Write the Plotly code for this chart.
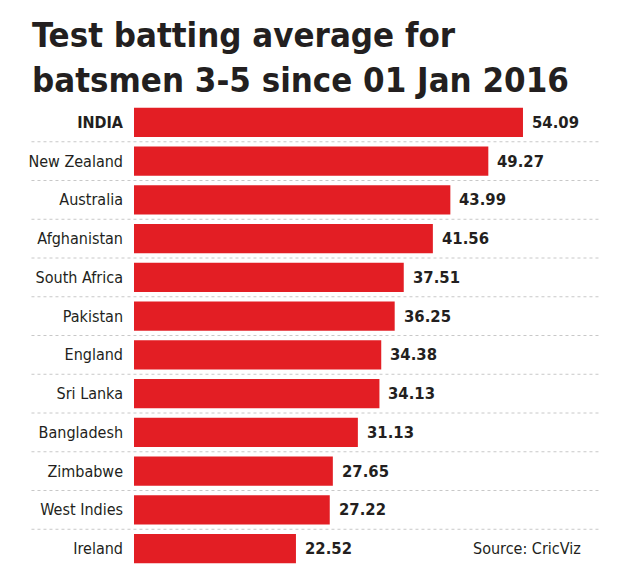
import plotly.graph_objects as go

countries = ["INDIA", "New Zealand", "Australia", "Afghanistan", "South Africa", "Pakistan",
             "England", "Sri Lanka", "Bangladesh", "Zimbabwe", "West Indies", "Ireland"]
averages = [54.09, 49.27, 43.99, 41.56, 37.51, 36.25, 34.38, 34.13, 31.13, 27.65, 27.22, 22.52]
tick_labels = ["<b>INDIA</b>"] + countries[1:]
title_lines = ["Test batting average for", "batsmen 3-5 since 01 Jan 2016"]
source_text = "Source: CricViz"

RED = "#e31e24"
INK = "#231f20"
NARROW = "DejaVu Sans Condensed, Roboto, sans-serif"

fig = go.Figure()
fig.add_trace(go.Bar(
    x=averages, y=countries, orientation="h",
    marker=dict(color=RED, line=dict(width=0)),
    width=0.75, hoverinfo="skip",
))

annotations = []
for c, v in zip(countries, averages):
    annotations.append(dict(
        x=v, y=c, xref="x", yref="y", text=f"<b>{v:.2f}</b>", showarrow=False,
        xanchor="left", yanchor="middle", xshift=7,
        font=dict(family=NARROW, size=16.5, color=INK),
    ))

annotations.append(dict(
    xref="paper", yref="paper", x=-0.223, y=1.0,
    text="<br>".join(f"<b>{t}</b>" for t in title_lines),
    showarrow=False, xanchor="left", yanchor="bottom", align="left",
    yshift=1,
    font=dict(family=NARROW, size=34.5, color=INK),
))
annotations.append(dict(
    xref="paper", yref="y", x=1.0, y=countries[-1], text=source_text, showarrow=False,
    xanchor="right", yanchor="middle", xshift=-17,
    font=dict(family=NARROW, size=16, color=INK),
))

shapes = []
for k in range(len(countries) - 1):
    shapes.append(dict(
        type="line", xref="paper", yref="y", x0=-0.22, x1=1.0,
        y0=k + 0.5, y1=k + 0.5,
        line=dict(color="#c8c8c8", width=1, dash="dot"), layer="below",
    ))

fig.update_layout(
    width=626, height=585,
    margin=dict(l=134, r=26, t=103, b=17),
    paper_bgcolor="white", plot_bgcolor="white",
    showlegend=False,
    bargap=0.25,
    xaxis=dict(range=[0, 64.8], visible=False, fixedrange=True),
    yaxis=dict(
        type="category", categoryorder="array", categoryarray=countries,
        autorange=False, range=[len(countries) - 0.5, -0.5],
        tickmode="array", tickvals=countries, ticktext=tick_labels,
        ticks="", showgrid=False, zeroline=False, showline=False,
        ticklabelstandoff=10,
        tickfont=dict(family=NARROW, size=16, color=INK),
    ),
    annotations=annotations,
    shapes=shapes,
)

fig.write_html("out.html")
